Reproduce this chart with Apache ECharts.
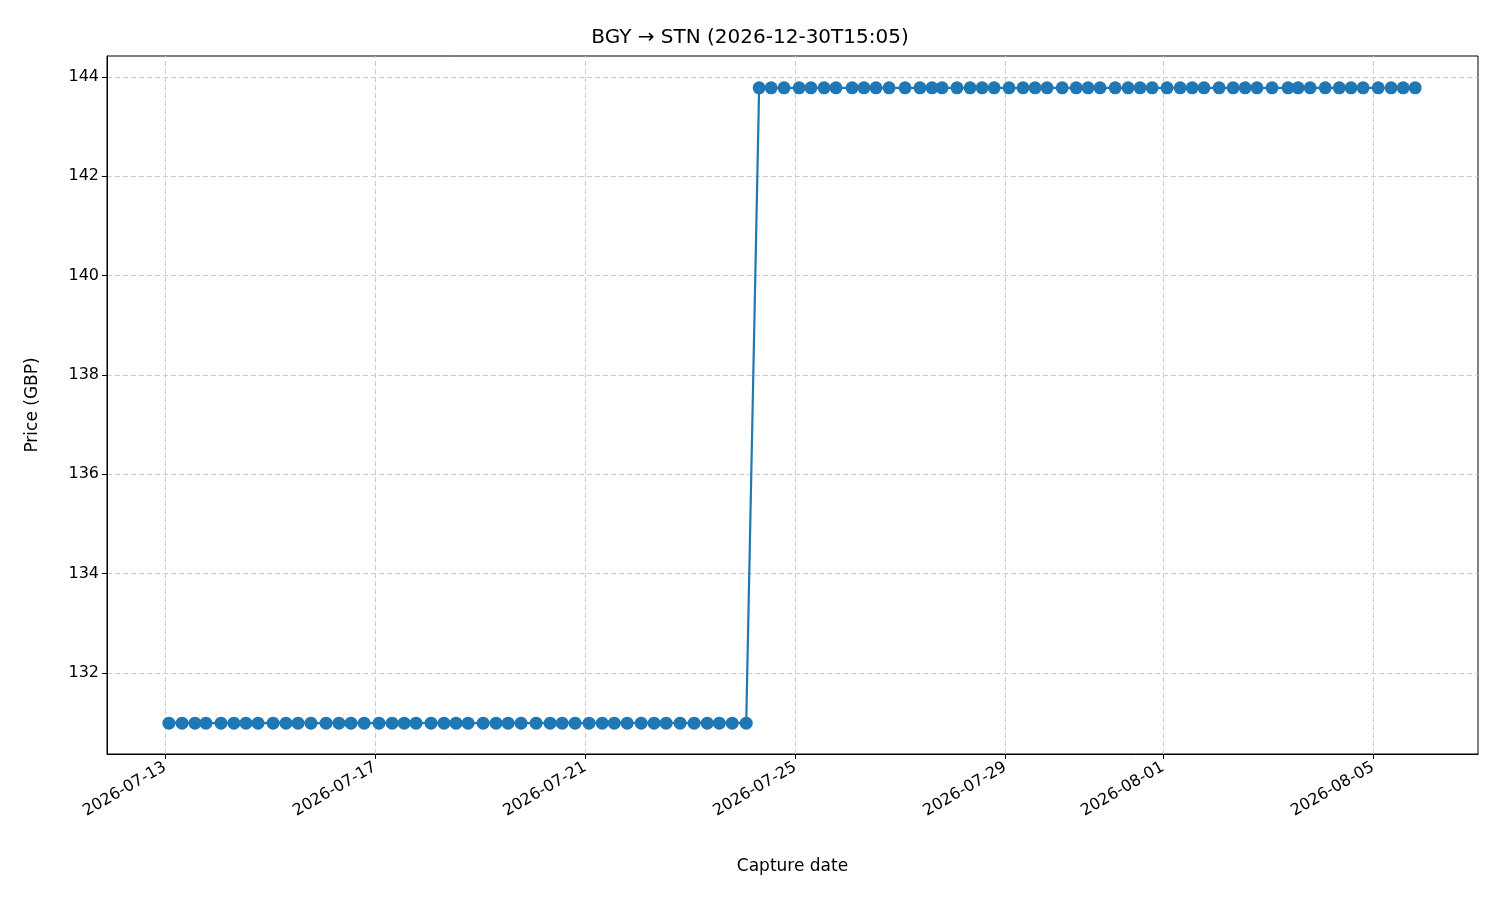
<!DOCTYPE html>
<html><head><meta charset="utf-8">
<script src="https://cdn.jsdelivr.net/npm/echarts@6/dist/echarts.min.js"></script>
<style>html,body{margin:0;background:#fff}#c{width:1500px;height:900px}</style></head>
<body><div id="c"></div>
<script>
// hours since 2026-07-13 00:00
const hoursLow = [1.8,7.8,13.7,18.7,25.6,31.5,37.0,42.5,49.4,55.3,60.8,66.7,73.6,79.5,85.0,91.0,97.8,103.8,109.3,114.7,121.6,127.5,133.0,138.5,145.4,151.3,156.8,162.7,169.6,176.0,181.5,187.4,193.8,199.8,205.3,211.2,217.6,223.5,229.0,235.4,241.8,247.8,253.3,259.2,265.6];
const hoursHigh = [271.5,277.0,282.9,289.8,295.2,301.2,306.6,314.0,319.4,324.9,330.9,338.2,345.0,350.5,355.1,361.9,367.9,373.4,378.9,385.7,392.1,397.6,403.1,410.0,416.4,421.8,427.3,434.2,440.1,445.6,451.1,457.9,463.9,469.4,474.8,481.7,488.1,493.6,499.0,505.9,513.2,517.8,523.3,530.2,536.6,542.0,547.5,554.4,560.3,565.8,571.3];
const priceLow = 130.99, priceHigh = 143.78;
const xTickHours = [0,96,192,288,384,456,552];
const xTickLabels = ['2026-07-13','2026-07-17','2026-07-21','2026-07-25','2026-07-29','2026-08-01','2026-08-05'];
const yTicks = [132,134,136,138,140,142,144];

const data = hoursLow.map(h=>[h,priceLow]).concat(hoursHigh.map(h=>[h,priceHigh]));
const gridStyle = {color:'#cccccc',type:[5,3],width:1};
const chart = echarts.init(document.getElementById('c'));
chart.setOption({
  animation:false,
  title:{text:'BGY \u2192 STN (2026-12-30T15:05)',left:'center',top:23,textStyle:{fontFamily:'DejaVu Sans',fontWeight:'normal',fontSize:20,color:'#000'}},
  grid:{left:107,right:22,top:56,bottom:146,show:true,borderColor:'#000',borderWidth:1},
  xAxis:{type:'value',min:-26.5,max:600,name:'Capture date',nameLocation:'middle',nameGap:104,
    nameTextStyle:{fontFamily:'DejaVu Sans',fontSize:17,color:'#000'},
    axisLine:{onZero:false,lineStyle:{color:'#000'}},splitLine:{show:false},
    axisTick:{customValues:xTickHours,lineStyle:{color:'#000'},length:5},
    axisLabel:{customValues:xTickHours,rotate:30,margin:12,fontFamily:'DejaVu Sans',fontSize:16,color:'#000',
      formatter:v=>xTickLabels[xTickHours.indexOf(v)]||''}},
  yAxis:{type:'value',min:130.37,max:144.42,name:'Price (GBP)',nameLocation:'middle',nameGap:66,
    nameTextStyle:{fontFamily:'DejaVu Sans',fontSize:17,color:'#000'},
    axisLine:{show:true,onZero:false,lineStyle:{color:'#000'}},splitLine:{show:false},
    axisTick:{show:true,customValues:yTicks,lineStyle:{color:'#000'},length:5},
    axisLabel:{customValues:yTicks,fontFamily:'DejaVu Sans',fontSize:16,color:'#000',formatter:v=>String(v)}},
  series:[{type:'line',data:data,symbol:'circle',symbolSize:13,
    itemStyle:{color:'#1f77b4'},lineStyle:{color:'#1f77b4',width:2.2},
    markLine:{silent:true,symbol:'none',label:{show:false},lineStyle:gridStyle,z:0,
      data:xTickHours.map(v=>({xAxis:v})).concat(yTicks.map(v=>({yAxis:v})))}}]
});
</script></body></html>
